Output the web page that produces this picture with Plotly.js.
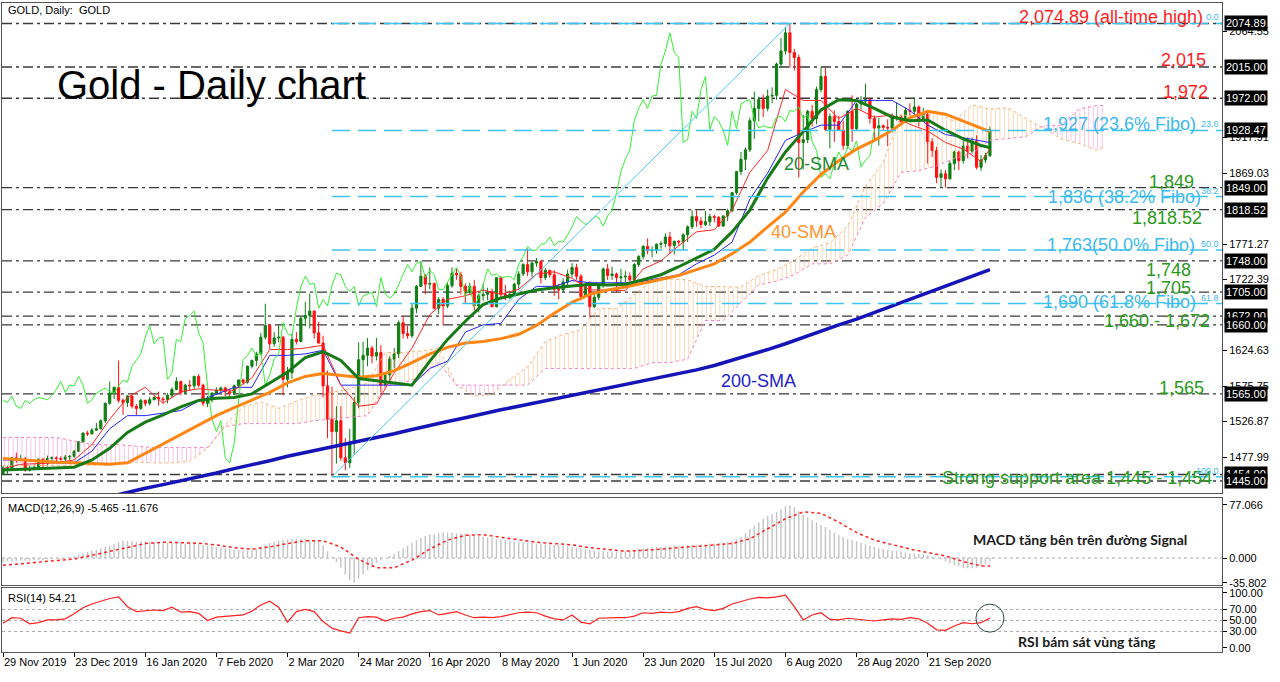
<!DOCTYPE html>
<html><head><meta charset="utf-8">
<script src="https://cdn.plot.ly/plotly-3.0.1.min.js"></script>
<style>html,body{margin:0;padding:0;background:#fff;overflow:hidden}#chart{width:1280px;height:682px}</style>
</head><body><div id="chart"></div>
<script>
// ---------------- DATA ----------------
const openP = [1455,1463,1463,1477,1474,1475,1460,1462,1464,1475,1470,1476,1477,1476,1475,1478,1479,1486,1499,1511,1510,1515,1517,1528,1552,1566,1574,1556,1553,1562,1548,1545,1556,1552,1557,1560,1558,1557,1563,1571,1582,1567,1577,1576,1589,1577,1552,1557,1566,1570,1573,1568,1566,1576,1584,1581,1603,1611,1620,1643,1659,1634,1642,1643,1585,1594,1640,1637,1669,1673,1679,1649,1635,1576,1530,1513,1528,1477,1470,1497,1553,1612,1618,1628,1617,1622,1577,1591,1613,1620,1663,1648,1645,1683,1713,1727,1716,1717,1683,1695,1686,1714,1731,1729,1713,1706,1713,1686,1700,1702,1705,1685,1725,1702,1697,1702,1716,1730,1743,1733,1745,1747,1725,1735,1729,1709,1708,1719,1730,1739,1727,1699,1714,1685,1698,1715,1737,1728,1730,1725,1726,1727,1722,1743,1754,1768,1762,1763,1771,1772,1781,1769,1775,1774,1784,1795,1809,1803,1798,1802,1809,1808,1796,1810,1817,1842,1871,1888,1901,1941,1958,1970,1958,1975,1976,2019,2037,2062,2035,2028,1911,1915,1954,1944,1984,2002,1929,1947,1940,1928,1907,1954,1930,1964,1968,1970,1944,1931,1934,1932,1931,1946,1947,1940,1955,1954,1960,1944,1950,1912,1900,1863,1868,1861,1882,1898,1886,1906,1899,1913,1877,1887,1893];
const highP = [1466,1466,1478,1484,1481,1478,1466,1468,1476,1477,1480,1479,1479,1479,1481,1481,1488,1500,1512,1514,1518,1525,1530,1553,1582,1575,1611,1559,1563,1563,1551,1558,1557,1561,1562,1568,1561,1566,1574,1588,1583,1579,1584,1590,1592,1579,1562,1567,1574,1575,1575,1571,1578,1585,1586,1604,1612,1623,1649,1689,1661,1650,1660,1645,1602,1648,1650,1672,1692,1703,1680,1664,1645,1597,1575,1548,1548,1504,1517,1561,1636,1637,1642,1631,1642,1632,1595,1617,1628,1666,1672,1659,1689,1715,1748,1730,1739,1718,1698,1698,1718,1739,1737,1733,1717,1718,1722,1703,1716,1711,1710,1726,1727,1715,1707,1718,1734,1745,1765,1747,1752,1749,1738,1736,1735,1716,1724,1736,1745,1744,1730,1718,1720,1702,1716,1739,1744,1740,1732,1737,1734,1732,1745,1756,1770,1779,1768,1772,1775,1786,1788,1776,1777,1786,1797,1818,1818,1808,1817,1813,1812,1810,1811,1820,1843,1872,1898,1904,1945,1981,1974,1977,1984,1987,2021,2055,2070,2075,2040,2032,1949,1956,1963,1988,2015,2014,1951,1955,1948,1941,1955,1976,1966,1975,1992,1973,1948,1945,1936,1943,1951,1966,1950,1959,1965,1973,1962,1959,1955,1917,1905,1874,1873,1886,1900,1900,1917,1918,1918,1921,1894,1897,1933];
const lowP = [1453,1454,1460,1470,1472,1458,1458,1460,1460,1464,1465,1473,1472,1473,1472,1474,1477,1485,1498,1507,1509,1514,1516,1525,1550,1558,1553,1536,1547,1545,1536,1543,1548,1549,1556,1549,1552,1552,1559,1570,1563,1565,1569,1572,1574,1548,1547,1553,1564,1567,1562,1561,1563,1573,1578,1579,1600,1603,1619,1640,1627,1630,1636,1563,1574,1586,1633,1636,1658,1655,1641,1634,1560,1504,1451,1469,1473,1460,1463,1482,1545,1588,1603,1607,1611,1567,1576,1581,1600,1614,1641,1641,1642,1676,1712,1702,1709,1681,1675,1660,1683,1711,1722,1702,1690,1701,1680,1677,1693,1694,1684,1684,1698,1694,1696,1700,1710,1727,1727,1726,1740,1717,1722,1725,1700,1695,1705,1712,1725,1722,1694,1697,1670,1683,1694,1711,1722,1722,1704,1714,1719,1717,1721,1740,1750,1757,1753,1758,1765,1767,1758,1757,1769,1763,1774,1792,1795,1793,1796,1796,1801,1795,1795,1803,1815,1839,1866,1873,1898,1916,1940,1946,1954,1965,1970,2014,2032,2014,2010,1863,1874,1910,1933,1936,1980,1927,1903,1912,1927,1901,1902,1912,1928,1956,1962,1937,1916,1907,1927,1906,1925,1941,1936,1938,1948,1950,1933,1940,1882,1891,1855,1849,1849,1860,1873,1873,1882,1889,1896,1874,1872,1883,1891];
const closeP = [1463,1463,1477,1474,1475,1460,1462,1464,1475,1470,1476,1477,1476,1475,1478,1479,1486,1499,1511,1510,1515,1517,1528,1552,1566,1574,1556,1553,1562,1548,1545,1556,1552,1557,1560,1558,1557,1563,1571,1582,1567,1577,1576,1589,1577,1552,1557,1566,1570,1573,1568,1566,1576,1584,1581,1603,1611,1620,1643,1659,1634,1642,1643,1585,1594,1640,1637,1669,1673,1679,1649,1635,1576,1530,1513,1528,1477,1470,1497,1553,1612,1618,1628,1617,1622,1577,1591,1613,1620,1663,1648,1645,1683,1713,1727,1716,1717,1683,1695,1686,1714,1731,1729,1713,1706,1713,1686,1700,1702,1705,1685,1725,1702,1697,1702,1716,1730,1743,1733,1745,1747,1725,1735,1729,1709,1708,1719,1730,1739,1727,1699,1714,1685,1698,1715,1737,1728,1730,1725,1726,1727,1722,1743,1754,1768,1762,1763,1771,1772,1781,1769,1775,1774,1784,1795,1809,1803,1798,1802,1809,1808,1796,1810,1817,1842,1871,1888,1901,1941,1958,1970,1958,1975,1976,2019,2037,2062,2035,2028,1911,1915,1954,1944,1984,2002,1929,1947,1940,1928,1907,1954,1930,1964,1968,1970,1944,1931,1934,1932,1931,1946,1947,1940,1955,1954,1960,1944,1950,1912,1900,1863,1868,1861,1882,1898,1886,1906,1899,1913,1877,1887,1893,1928.47];

const dateTickIdx = [0,16,32,48,64,80,96,112,128,144,160,176,192,208];
const dateTickText = ['29 Nov 2019','23 Dec 2019','16 Jan 2020','7 Feb 2020','2 Mar 2020','24 Mar 2020','16 Apr 2020','8 May 2020','1 Jun 2020','23 Jun 2020','15 Jul 2020','6 Aug 2020','28 Aug 2020','21 Sep 2020'];

// indicator lines, sampled every 4 bars (bar 0,4,...,220 and 222)
const tenkan = [1462,1468,1469,1470,1474,1495,1530,1560,1574,1552,1568,1572,1570,1570,1587,1626,1626,1628,1632,1577,1548,1551,1594,1628,1674,1695,1700,1708,1702,1709,1730,1733,1724,1708,1708,1707,1737,1748,1769,1788,1791,1818,1870,1900,1984,1969,1969,1944,1958,1946,1949,1936,1927,1911,1902,1885,1902];
const kijun = [1474,1474,1472,1470,1470,1486,1517,1535,1535,1538,1542,1555,1564,1574,1574,1618,1618,1620,1625,1577,1577,1577,1577,1577,1600,1610,1650,1660,1662,1695,1713,1713,1721,1718,1718,1718,1720,1725,1729,1744,1756,1774,1833,1869,1914,1925,1935,1935,1969,1969,1969,1955,1935,1922,1918,1914,1911];
const sma20 = [1460,1461,1462,1462,1464,1474,1490,1512,1526,1536,1547,1556,1559,1560,1565,1580,1595,1615,1623,1611,1586,1583,1580,1577,1610,1640,1665,1688,1697,1703,1708,1711,1714,1716,1715,1716,1722,1729,1740,1752,1764,1788,1818,1862,1898,1926,1956,1970,1969,1958,1946,1941,1942,1928,1916,1907,1904];
const sma40 = [1476,1474,1473,1471,1470,1469,1468,1470,1483,1496,1509,1522,1535,1546,1557,1567,1580,1589,1593,1590,1588,1590,1597,1608,1620,1629,1635,1637,1641,1647,1659,1676,1691,1702,1708,1712,1717,1722,1728,1736,1744,1758,1774,1795,1815,1843,1867,1886,1902,1914,1928,1945,1954,1950,1940,1930,1926];
const sma200 = [1390,1396,1401,1407,1412,1418,1423,1429,1435,1440,1445,1451,1456,1462,1467,1473,1479,1484,1490,1495,1500,1505,1510,1516,1522,1527,1532,1538,1543,1548,1553,1558,1563,1568,1573,1578,1582,1587,1593,1598,1604,1611,1618,1626,1634,1643,1651,1660,1668,1677,1686,1695,1704,1713,1722,1731,1736];
const macdSignal = [-10.5,-8,-6,-4,-1.5,4,10,16,21,23,22.5,21.5,19,15,13,16,21,25,25,16,-2,-14,-14,-3,13,26,33,34,30,26,23,21,19,15,12,10,11,13,16,17,19,21,28,42,57,67,65,52,37,26,19,13,8,3,-5,-11.5,-11.676];

// Ichimoku cloud (senkou spans, plotted 26 bars ahead)
const cloudIdx = [0,4,8,12,16,20,24,26,30,34,38,42,46,50,54,58,62,66,70,74,78,82,86,90,94,98,102,106,110,114,118,122,126,130,134,138,142,146,150,154,158,162,166,170,174,178,182,186,190,194,198,202,206,210,214,218,222,226,230,234,238,242,246,248];
const senkouA = [1466,1466,1466,1466,1466,1466,1467,1468,1471,1470,1470,1472,1490,1523,1547,1554,1545,1555,1563,1567,1572,1580,1622,1622,1624,1628,1577,1562,1564,1585,1602,1637,1647,1653,1683,1682,1702,1721,1723,1722,1713,1713,1712,1728,1736,1749,1766,1773,1796,1851,1884,1949,1947,1952,1940,1963,1957,1959,1945,1931,1916,1910,1900,1906];
const senkouB = [1505,1505,1505,1505,1500,1495,1495,1495,1493,1491,1491,1491,1491,1520,1524,1524,1524,1524,1528,1530,1532,1535,1576,1580,1588,1608,1577,1577,1577,1577,1577,1600,1600,1600,1600,1600,1600,1608,1608,1613,1666,1666,1690,1715,1720,1729,1744,1744,1756,1808,1827,1870,1872,1879,1889,1896,1914,1916,1919,1934,1935,1957,1962,1962];
const chikouShift = 26;

// MACD(12,26,9) main values, one per bar
const macdMain = [-6,-5,-5,-4,-4,-4,-4,-3,-3,-3,-2,-2,-1,-1,0,1,
 3,5,7,9,11,12,14,16,18,20,
 23,25,25,25,24,24,24,
 24,23,23,22,22,22,22,21,21,21,21,20,19,18,17,16,
 15,14,13,12,12,11,11,12,13,
 16,19,22,24,25,26,
 27,28,28,28,28,27,26,24,
 18,10,2,-6,
 -14,-24,-32,-35.802,
 -30,-24,-18,-12,-7,-3,0,
 3,6,10,14,18,22,26,29,32,
 34,35,36,37,37,37,36,36,35,34,33,
 32,31,30,29,28,27,26,25,24,
 23,23,22,22,21,21,20,20,19,19,18,17,16,
 15,14,13,12,11,10,10,9,9,9,10,10,11,12,13,14,
 15,15,16,16,17,17,18,18,18,19,19,
 19,20,20,21,21,22,22,23,24,27,
 31,36,42,47,52,
 57,61,64,67,71,75,77.066,74,
 68,63,59,55,52,
 48,45,41,37,33,30,28,
 26,24,22,20,18,16,
 14,13,12,11,10,9,8,7,7,6,5,4,2,0,
 -2,-5,-8,-10,-12,-14,-15,-15,-14,-12,-9,-5.465];

// RSI(14), sampled every 2 bars
const rsiVals = [45,55,54,44,46,51,51,53,62,73,80,85,90,93,75,66,68,69,68,74,65,66,63,50,56,57,58,60,67,78,85,74,47,66,70,66,48,36,31,27,55,57,56,49,54,56,62,66,68,60,63,66,60,55,56,55,57,61,64,65,64,58,53,51,60,47,44,54,55,55,55,58,64,63,65,64,66,72,75,70,68,72,80,85,89,92,91,93,96,75,51,60,64,52,51,54,52,50,49,51,53,52,55,53,45,33,32,40,46,44,46,54.21];
const rsiLevels = [70,50,30];
const rsiTicks = [100,70,50,30,0];
const macdTicks = [77.066,0,-35.802];

// horizontal support/resistance levels
const hLevels = [2074.89,2015,1972,1849,1818.52,1748,1705,1672,1660,1565,1454,1445];
// Fibonacci retracement (Mar 16 low -> Aug 7 high)
const fiboLowIdx = 74, fiboHighIdx = 177;
const fiboLow = 1451.0, fiboHigh = 2074.89;
const fiboPrices = [2074.89,1927.65,1836.57,1762.95,1689.33,1451.0];
const fiboPctText = ['0.0','23.6','38.2','50.0','61.8','100.0'];

const priceTicks = [2064.55,1917.91,1869.03,1771.27,1722.39,1624.63,1575.75,1526.87,1477.99];

const noteTexts = ['2,074.89 (all-time high)','2,015','1,972','1,927 (23.6% Fibo)','1,849','1,836 (38.2% Fibo)','1,818.52','1,763(50.0% Fibo)','1,748','1,705','1,690 (61.8% Fibo)','1,660 - 1,672','1,565','Strong support area 1,445 - 1,454'];
const noteLevels = [2074.89,2015,1972,1927.65,1849,1836.57,1818.52,1762.95,1748,1705,1689.33,1660,1565,1445];
const noteKinds = ['red','red','red','fibo','green','fibo','green','fibo','green','green','fibo','green','green','green'];

// ---------------- STYLE / LAYOUT ----------------
const W = 1280, H = 682;
const noteRightPx = [1205,1208,1210,1198,1196,1203,1204,1197,1193,1193,1198,1212,1206,1214];
const noteShift = [6,7,6,6,6,0,-8,5,-9,4,2,4,6,3];
const kindColor = {red:'#ff1c1c', green:'#2a9a1c', fibo:'#3bb9f0'};
const X_RANGE = [-0.225, 274.2];
const dom = (top, bottom) => [1 - bottom / H, 1 - top / H];
const FONT = 'Liberation Sans, Arial, sans-serif';

const barIdx = closeP.map((_, i) => i);
const lineIdx = sma20.map((_, k) => Math.min(k * 4, closeP.length - 1));
const rsiIdx = rsiVals.map((_, k) => k * 2);

const traces = [];

// cloud hatching (split by which span is on top)
function pushCloud(k0, k1, up) {
  const xs = cloudIdx.slice(k0, k1 + 1);
  const a = senkouA.slice(k0, k1 + 1), b = senkouB.slice(k0, k1 + 1);
  const col = up ? 'rgba(250,190,135,0.75)' : 'rgba(247,160,210,0.8)';
  traces.push({x: xs, y: b, mode: 'lines', line: {width: 0}, xaxis: 'x', yaxis: 'y', hoverinfo: 'skip'});
  traces.push({x: xs, y: a, mode: 'lines', line: {width: 0}, fill: 'tonexty', fillcolor: 'rgba(0,0,0,0)',
    fillpattern: {shape: '|', fgcolor: col, size: 4.445, solidity: 0.18}, xaxis: 'x', yaxis: 'y', hoverinfo: 'skip'});
}
let seg = null;
for (let k = 0; k < cloudIdx.length - 1; k++) {
  const up = (senkouA[k] + senkouA[k + 1]) >= (senkouB[k] + senkouB[k + 1]);
  if (!seg || seg.up !== up) { if (seg) pushCloud(seg.k0, seg.k1, seg.up); seg = {up: up, k0: k, k1: k + 1}; }
  else seg.k1 = k + 1;
}
pushCloud(seg.k0, seg.k1, seg.up);

traces.push({x: cloudIdx, y: senkouA, mode: 'lines', line: {color: '#f8b27a', width: 1, dash: 'dot'}, xaxis: 'x', yaxis: 'y'});
traces.push({x: cloudIdx, y: senkouB, mode: 'lines', line: {color: '#f77dc0', width: 1, dash: 'dot'}, xaxis: 'x', yaxis: 'y'});

// candles
traces.push({type: 'candlestick', x: barIdx, open: openP, high: highP, low: lowP, close: closeP,
  increasing: {line: {color: '#0f7f12', width: 1}, fillcolor: '#0f7f12'},
  decreasing: {line: {color: '#ff1010', width: 1}, fillcolor: '#ff1010'},
  whiskerwidth: 0, xaxis: 'x', yaxis: 'y', hoverinfo: 'skip'});

// ichimoku lines
traces.push({x: lineIdx, y: kijun, mode: 'lines', line: {color: '#2424ff', width: 1}, xaxis: 'x', yaxis: 'y'});
traces.push({x: lineIdx, y: tenkan, mode: 'lines', line: {color: '#ff2626', width: 1}, xaxis: 'x', yaxis: 'y'});
traces.push({x: barIdx.slice(chikouShift).map(i => i - chikouShift), y: closeP.slice(chikouShift), mode: 'lines',
  line: {color: '#33f033', width: 1}, xaxis: 'x', yaxis: 'y'});
// moving averages
traces.push({x: lineIdx, y: sma200, mode: 'lines', line: {color: '#1414b8', width: 3.5}, xaxis: 'x', yaxis: 'y'});
traces.push({x: lineIdx, y: sma40, mode: 'lines', line: {color: '#ff8614', width: 3}, xaxis: 'x', yaxis: 'y'});
traces.push({x: lineIdx, y: sma20, mode: 'lines', line: {color: '#167a16', width: 3}, xaxis: 'x', yaxis: 'y'});

// MACD
traces.push({type: 'bar', x: barIdx, y: macdMain, width: 0.32, marker: {color: '#c4c4c4', line: {width: 0}}, xaxis: 'x2', yaxis: 'y2'});
traces.push({x: lineIdx, y: macdSignal, mode: 'lines', line: {color: '#ff2020', width: 1.5, dash: 'dot'}, xaxis: 'x2', yaxis: 'y2'});
// RSI
traces.push({x: rsiIdx, y: rsiVals, mode: 'lines', line: {color: '#ff2020', width: 1.2}, xaxis: 'x3', yaxis: 'y3'});

const shapes = [];
hLevels.forEach(v => shapes.push({type: 'line', xref: 'x domain', x0: 0, x1: 1, yref: 'y', y0: v, y1: v,
  line: {color: '#3a3a3a', width: 1.3, dash: '10px,4px,3px,4px'}, layer: 'below'}));
fiboPrices.forEach(v => shapes.push({type: 'line', xref: 'x', x0: fiboLowIdx, x1: X_RANGE[1], yref: 'y', y0: v, y1: v,
  line: {color: '#3cc4f2', width: 1.5, dash: '18px,8px'}}));
shapes.push({type: 'line', xref: 'x', yref: 'y', x0: fiboLowIdx, y0: fiboLow, x1: fiboHighIdx, y1: fiboHigh, line: {color: '#4fc8f5', width: 1}});
shapes.push({type: 'line', xref: 'x2 domain', x0: 0, x1: 1, yref: 'y2', y0: 0, y1: 0, line: {color: '#aaaaaa', width: 1, dash: 'dot'}, layer: 'below'});
rsiLevels.forEach(v => shapes.push({type: 'line', xref: 'x3 domain', x0: 0, x1: 1, yref: 'y3', y0: v, y1: v,
  line: {color: '#aaaaaa', width: 1, dash: 'dot'}, layer: 'below'}));
shapes.push({type: 'circle', xref: 'x3', yref: 'y3', xsizemode: 'pixel', ysizemode: 'pixel',
  xanchor: barIdx[barIdx.length - 1], yanchor: rsiVals[rsiVals.length - 1], x0: -14, x1: 14, y0: -14, y1: 14,
  line: {color: '#2f4a4a', width: 1}});

const ann = [];
const paperText = (txt, xpx, ypx, size, color, anchor, extra) => ann.push(Object.assign({
  xref: 'paper', yref: 'paper', x: xpx / W, y: 1 - ypx / H, text: txt, showarrow: false,
  xanchor: anchor || 'left', yanchor: 'middle', font: {family: FONT, size: size, color: color}}, extra || {}));

paperText('GOLD, Daily:\u00a0\u00a0GOLD', 6, 10, 11, '#000');
paperText('Gold - Daily chart', 55, 85, 40, '#000');
paperText('MACD(12,26,9) -5.465 -11.676', 6, 508, 11, '#000');
paperText('RSI(14) 54.21', 6, 598, 11, '#000');
paperText('20-SMA', 782, 164, 18, '#238a30');
paperText('40-SMA', 769, 232, 18, '#ff9430');
paperText('200-SMA', 719, 381, 18, '#2222c8');
ann.push({xref: 'paper', yref: 'paper', x: 1080 / W, y: 1 - 539 / H, text: '<b>MACD tăng bên trên đường Signal</b>', showarrow: false,
  xanchor: 'center', yanchor: 'middle', font: {family: 'Lato, Noto Sans, sans-serif', size: 14, color: '#1a1a1a'}});
ann.push({xref: 'paper', yref: 'paper', x: 1087 / W, y: 1 - 641 / H, text: '<b>RSI bám sát vùng tăng</b>', showarrow: false,
  xanchor: 'center', yanchor: 'middle', font: {family: 'Lato, Noto Sans, sans-serif', size: 14, color: '#1a1a1a'}});

noteTexts.forEach((t, k) => ann.push({xref: 'paper', yref: 'y', x: noteRightPx[k] / W, y: noteLevels[k], yshift: noteShift[k],
  text: t, showarrow: false, xanchor: 'right', yanchor: 'middle', font: {family: FONT, size: 18, color: kindColor[noteKinds[k]]}}));

fiboPrices.forEach((v, k) => ann.push({xref: 'paper', yref: 'y', x: 1221 / W, y: v, text: fiboPctText[k], showarrow: false,
  xanchor: 'right', yanchor: 'bottom', yshift: -1, font: {family: FONT, size: 9, color: '#3bb9f0'}}));

// black price boxes on the right scale
const boxVals = hLevels.concat([closeP[closeP.length - 1]]);
boxVals.forEach(v => ann.push({xref: 'paper', yref: 'y', x: 1224 / W, y: v, text: v.toFixed(2), showarrow: false,
  xanchor: 'left', yanchor: 'middle', bgcolor: '#000', borderpad: 1, font: {family: FONT, size: 11, color: '#fff'}}));

const axBase = {showgrid: false, zeroline: false, showline: true, mirror: true, linecolor: '#555', linewidth: 1};
const layout = {
  width: W, height: H, margin: {l: 0, r: 0, t: 0, b: 0}, paper_bgcolor: '#fff', plot_bgcolor: '#fff',
  showlegend: false, hovermode: false, font: {family: FONT, size: 11, color: '#000'},
  xaxis: Object.assign({}, axBase, {domain: [2 / W, 1222 / W], range: X_RANGE, anchor: 'y', showticklabels: false, ticks: '', rangeslider: {visible: false}}),
  yaxis: Object.assign({}, axBase, {domain: dom(3, 493), range: [1428.5, 2103.1], anchor: 'x', side: 'right',
    tickvals: priceTicks, ticktext: priceTicks.map(v => v.toFixed(2)), ticks: 'outside', ticklen: 4, tickcolor: '#000', tickfont: {size: 11}}),
  xaxis2: Object.assign({}, axBase, {domain: [2 / W, 1222 / W], range: X_RANGE, anchor: 'y2', showticklabels: false, ticks: ''}),
  yaxis2: Object.assign({}, axBase, {domain: dom(498, 585), range: [-39.2, 87.2], anchor: 'x2', side: 'right',
    tickvals: macdTicks, ticktext: macdTicks.map(v => v.toFixed(3)), ticks: 'outside', ticklen: 4, tickcolor: '#000', tickfont: {size: 11}}),
  xaxis3: Object.assign({}, axBase, {domain: [2 / W, 1222 / W], range: X_RANGE, anchor: 'y3',
    tickvals: dateTickIdx, ticktext: dateTickText, ticks: 'outside', ticklen: 4, tickcolor: '#000',
    ticklabelposition: 'outside right', tickangle: 0, automargin: false, tickfont: {size: 11}}),
  yaxis3: Object.assign({}, axBase, {domain: dom(588, 652), range: [-7.3, 109], anchor: 'x3', side: 'right',
    tickvals: rsiTicks, ticktext: rsiTicks.map(v => v.toFixed(2)), ticks: 'outside', ticklen: 4, tickcolor: '#000', tickfont: {size: 11}}),
  shapes: shapes, annotations: ann
};
Plotly.newPlot('chart', traces, layout, {staticPlot: true, displayModeBar: false});
</script></body></html>
